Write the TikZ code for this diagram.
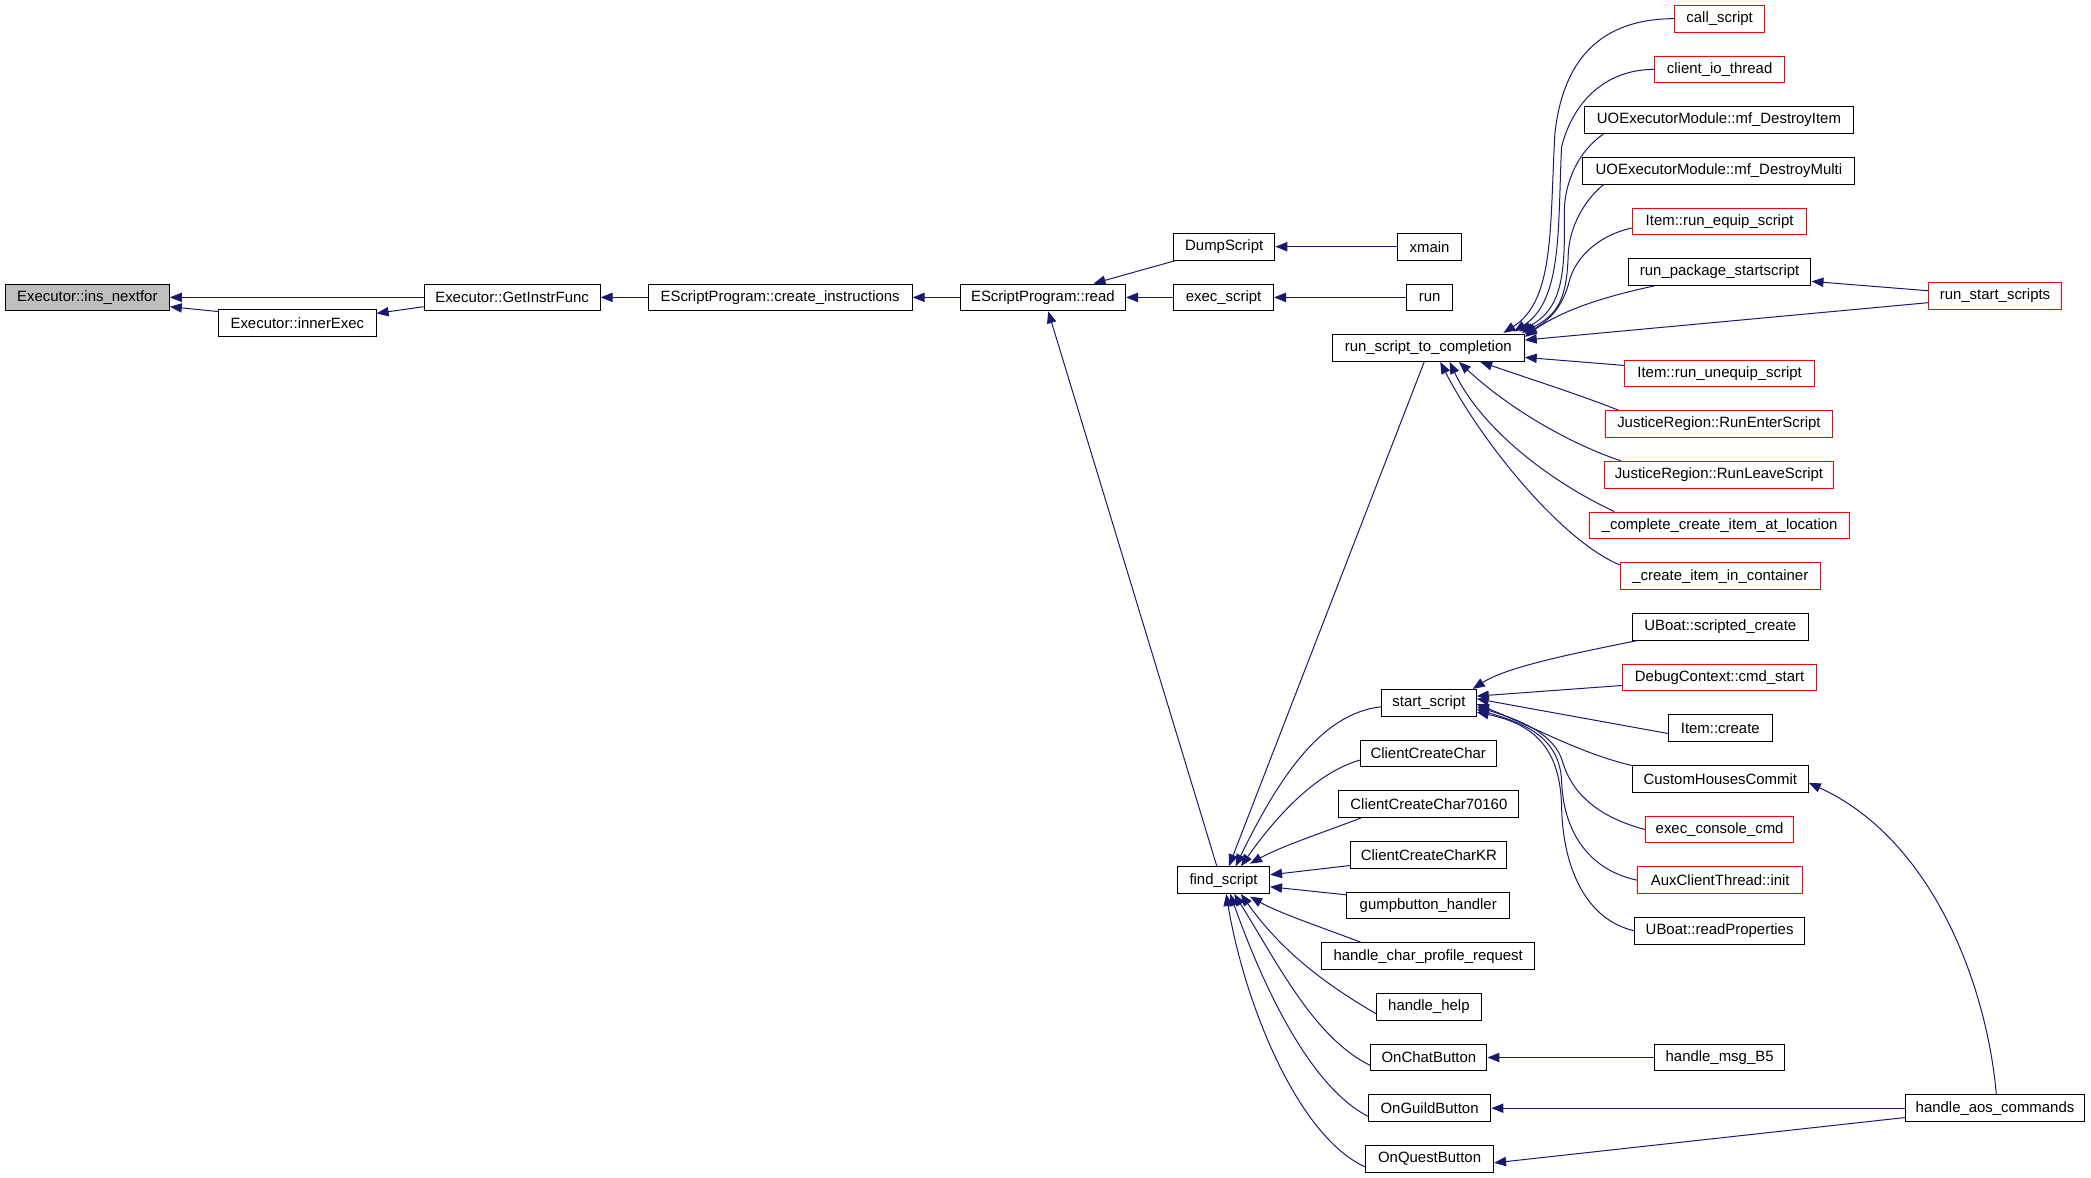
\documentclass[tikz,border=0pt]{standalone}
\usepackage{fontspec}
\setmainfont{Liberation Sans}
\usetikzlibrary{arrows.meta}
\definecolor{edgeblue}{RGB}{25,25,112}
\definecolor{nodegray}{RGB}{191,191,191}
\tikzset{
  box/.style={draw=black, line width=0.75pt, rectangle, minimum height=20pt, inner sep=0pt, font=\fontsize{11.2}{13}\selectfont, text=black},
  redbox/.style={box, draw=red},
  graybox/.style={box, fill=nodegray},
  edge/.style={draw=edgeblue, line width=0.75pt, -{Triangle[length=9pt,width=7pt]}},
}
\begin{document}
\begin{tikzpicture}[x=1pt,y=-1pt]
\useasboundingbox (0,0) rectangle (1568,883);
% nodes
\node[graybox, minimum width=123] (ins) at (65.5,223) {Executor::ins\_nextfor};
\node[box, minimum width=118] (inner) at (223,242) {Executor::innerExec};
\node[box, minimum width=132] (getinstr) at (384,223) {Executor::GetInstrFunc};
\node[box, minimum width=198] (create) at (585,223) {EScriptProgram::create\_instructions};
\node[box, minimum width=124] (read) at (782,223) {EScriptProgram::read};
\node[box, minimum width=76] (dump) at (918,185) {DumpScript};
\node[box, minimum width=75] (exec) at (917.5,223) {exec\_script};
\node[box, minimum width=48] (xmain) at (1072,185) {xmain};
\node[box, minimum width=34] (run) at (1072,223) {run};
\node[box, minimum width=144] (rstc) at (1071,261) {run\_script\_to\_completion};
\node[redbox, minimum width=67] (call) at (1289.5,14) {call\_script};
\node[redbox, minimum width=97] (clientio) at (1289.5,52) {client\_io\_thread};
\node[box, minimum width=202] (ditem) at (1289,90) {UOExecutorModule::mf\_DestroyItem};
\node[box, minimum width=204] (dmulti) at (1289,128) {UOExecutorModule::mf\_DestroyMulti};
\node[redbox, minimum width=131] (equip) at (1289.5,166) {Item::run\_equip\_script};
\node[box, minimum width=137] (pkg) at (1289.5,204) {run\_package\_startscript};
\node[redbox, minimum width=100] (rss) at (1496,222) {run\_start\_scripts};
\node[redbox, minimum width=143] (unequip) at (1289.5,280) {Item::run\_unequip\_script};
\node[redbox, minimum width=170] (enter) at (1289,318) {JusticeRegion::RunEnterScript};
\node[redbox, minimum width=172] (leave) at (1289,356) {JusticeRegion::RunLeaveScript};
\node[redbox, minimum width=195] (complete) at (1289.5,394) {\_complete\_create\_item\_at\_location};
\node[redbox, minimum width=150] (container) at (1290,432) {\_create\_item\_in\_container};
\node[box, minimum width=132] (scripted) at (1290,470) {UBoat::scripted\_create};
\node[redbox, minimum width=145] (cmdstart) at (1289.5,508) {DebugContext::cmd\_start};
\node[box, minimum width=78] (itemcreate) at (1290,546) {Item::create};
\node[box, minimum width=132] (chc) at (1290,584) {CustomHousesCommit};
\node[redbox, minimum width=111] (console) at (1289.5,622) {exec\_console\_cmd};
\node[redbox, minimum width=124] (aux) at (1290,660) {AuxClientThread::init};
\node[box, minimum width=127] (readprops) at (1289.5,698) {UBoat::readProperties};
\node[box, minimum width=71] (start) at (1071.5,527) {start\_script};
\node[box, minimum width=102] (ccc) at (1071,565) {ClientCreateChar};
\node[box, minimum width=135] (ccc70) at (1071.5,603) {ClientCreateChar70160};
\node[box, minimum width=117] (ccckr) at (1071.5,641) {ClientCreateCharKR};
\node[box, minimum width=122] (gump) at (1071,679) {gumpbutton\_handler};
\node[box, minimum width=160] (profile) at (1071,717) {handle\_char\_profile\_request};
\node[box, minimum width=79] (help) at (1071.5,755) {handle\_help};
\node[box, minimum width=87] (chat) at (1071.5,793) {OnChatButton};
\node[box, minimum width=92] (guild) at (1072,831) {OnGuildButton};
\node[box, minimum width=96] (quest) at (1072,869) {OnQuestButton};
\node[box, minimum width=97] (b5) at (1289.5,793) {handle\_msg\_B5};
\node[box, minimum width=134] (aos) at (1496,831) {handle\_aos\_commands};
\node[box, minimum width=69] (find) at (917.5,660) {find\_script};
% left chain
\draw[edge] (getinstr.west) -- (ins.east);
\draw[edge] ([yshift=-2]inner.north west) -- ([yshift=-7]ins.east);
\draw[edge] ([yshift=-7]getinstr.west) -- ([yshift=7]inner.east);
\draw[edge] (create.west) -- (getinstr.east);
\draw[edge] (read.west) -- (create.east);
\draw[edge] ([xshift=2]dump.south west) -- ([xshift=38]read.north);
\draw[edge] (exec.west) -- (read.east);
\draw[edge] ([xshift=-5]find.north) -- ([xshift=4]read.south);
\draw[edge] (xmain.west) -- (dump.east);
\draw[edge] (run.west) -- (exec.east);
% callers of run_script_to_completion
\draw[edge] (call.west) .. controls (1200,14) and (1172,45) .. (1166,100) .. controls (1162,170) and (1166,225) .. ([xshift=-16,yshift=1]rstc.north east);
\draw[edge] (clientio.west) .. controls (1205,52) and (1180,75) .. (1171,110) .. controls (1168,170) and (1172,225) .. ([xshift=-8,yshift=2]rstc.north east);
\draw[edge] ([xshift=15]ditem.south west) .. controls (1185,112) and (1173,135) .. (1173,160) .. controls (1174,210) and (1170,232) .. ([xshift=-4,yshift=2]rstc.north east);
\draw[edge] ([xshift=16]dmulti.south west) .. controls (1188,150) and (1177,170) .. (1176,190) .. controls (1175,225) and (1168,236) .. ([xshift=-2,yshift=1]rstc.north east);
\draw[edge] ([yshift=-5]equip.west) .. controls (1200,176) and (1182,192) .. (1177,210) .. controls (1172,230) and (1162,240) .. (rstc.north east);
\draw[edge] ([xshift=20]pkg.south west) .. controls (1205,222) and (1172,232) .. ([yshift=-2]rstc.north east);
\draw[edge] ([yshift=-5]rss.west) -- ([yshift=6]rstc.east);
\draw[edge] ([yshift=4]rss.west) -- ([yshift=-7]pkg.east);
\draw[edge] ([yshift=6]unequip.west) -- ([yshift=-7]rstc.east);
\draw[edge] ([xshift=10]enter.north west) .. controls (1190,298) and (1150,285) .. ([xshift=39]rstc.south);
\draw[edge] ([xshift=13]leave.north west) .. controls (1175,332) and (1130,305) .. ([xshift=23]rstc.south);
\draw[edge] ([xshift=19]complete.north west) .. controls (1160,360) and (1110,320) .. ([xshift=16]rstc.south);
\draw[edge] ([yshift=-2]container.north west) .. controls (1170,405) and (1110,330) .. ([xshift=9]rstc.south);
\draw[edge] ([xshift=-3]rstc.south) -- ([xshift=4]find.north);
% callers of start_script
\draw[edge] ([xshift=4]scripted.south west) .. controls (1180,490) and (1130,500) .. ([xshift=-3]start.north east);
\draw[edge] ([yshift=-6]cmdstart.west) -- ([yshift=5]start.east);
\draw[edge] ([yshift=-4]itemcreate.west) -- ([yshift=3]start.east);
\draw[edge] ([yshift=10]chc.west) .. controls (1185,565) and (1150,545) .. ([yshift=-1]start.east);
\draw[edge] (console.west) .. controls (1195,612) and (1178,592) .. (1172,572) .. controls (1166,550) and (1140,540) .. ([yshift=-3]start.east);
\draw[edge] (aux.west) .. controls (1190,652) and (1172,622) .. (1171,585) .. controls (1169,552) and (1142,542) .. ([yshift=-5]start.east);
\draw[edge] (readprops.west) .. controls (1190,690) and (1172,652) .. (1171,605) .. controls (1170,556) and (1145,542) .. ([yshift=-7]start.east);
% callers of find_script
\draw[edge] ([yshift=-3]start.west) .. controls (990,535) and (958,585) .. ([xshift=9]find.north);
\draw[edge] ([yshift=-5]ccc.west) .. controls (985,580) and (955,615) .. ([xshift=13]find.north);
\draw[edge] ([xshift=17]ccc70.south west) .. controls (990,625) and (960,635) .. ([xshift=-15,yshift=2]find.north east);
\draw[edge] ([yshift=-8]ccckr.west) -- ([yshift=4]find.east);
\draw[edge] ([yshift=8]gump.west) -- ([yshift=-5]find.east);
\draw[edge] ([xshift=30]profile.north west) .. controls (990,695) and (960,685) .. ([xshift=-15,yshift=-2]find.south east);
\draw[edge] ([yshift=-5]help.west) .. controls (992,737) and (960,712) .. ([xshift=13]find.south);
\draw[edge] ([yshift=-6]chat.west) .. controls (985,778) and (958,722) .. ([xshift=8]find.south);
\draw[edge] ([yshift=-6]guild.west) .. controls (983,815) and (948,742) .. ([xshift=5]find.south);
\draw[edge] ([yshift=-6]quest.west) .. controls (973,852) and (933,752) .. ([xshift=2]find.south);
% right side
\draw[edge] (b5.west) -- (chat.east);
\draw[edge] (aos.west) -- (guild.east);
\draw[edge] ([yshift=-7]aos.west) -- ([yshift=-3]quest.east);
\draw[edge] ([xshift=1]aos.north) .. controls (1490,740) and (1450,630) .. ([yshift=-3]chc.east);
\end{tikzpicture}
\end{document}
